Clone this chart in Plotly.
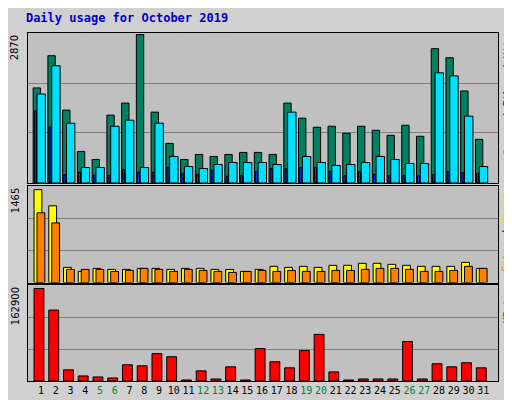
import plotly.graph_objects as go

days = list(range(1, 32))
hits = [1838,2461,1409,610,455,1312,1545,2870,1370,766,455,552,513,552,591,591,552,1545,1253,1078,1097,961,1097,1019,922,1117,903,2597,2422,1779,844]
files = [1721,2266,1156,299,299,1097,1214,299,1156,513,318,279,357,396,396,396,357,1370,513,396,338,357,396,513,455,377,377,2130,2071,1292,318]
pages = [1396,1084,162,208,149,149,260,208,208,305,188,169,247,130,149,227,279,279,299,299,221,143,221,169,143,143,143,162,221,201,182]
visits = [1465,1210,239,175,223,207,207,223,223,207,223,223,207,207,175,207,255,239,255,239,271,271,303,303,287,271,255,255,255,318,223]
sites = [1099,940,207,207,207,175,191,223,207,175,207,191,175,159,175,191,175,191,175,175,191,191,207,223,223,207,175,175,191,255,223]
kbytes = [162900,124850,19620,8918,7134,5351,28540,26750,48160,42810,1784,17840,3567,24970,1784,57080,33890,23190,53510,82050,16050,1784,3567,3567,3567,69560,3567,30320,24970,32100,23190]
weekend = {5,6,12,13,19,20,26,27}
ticktext = [f"<span style='color:#008040'>{d}</span>" if d in weekend else str(d) for d in days]

fig = go.Figure()
line = dict(color="black", width=1)
def bar(y, color, off, w, ax):
    fig.add_trace(go.Bar(x=days, y=y, marker=dict(color=color, line=line), offset=off, width=w,
                         xaxis="x"+ax if ax!="1" else "x", yaxis="y"+ax if ax!="1" else "y"))
bar(hits, "#008060", -0.53, 0.5, "1")
bar(files, "#00E0FF", -0.27, 0.57, "1")
bar(pages, "#0040FF", -0.45, 0.13, "1")
bar(visits, "#FFFF00", -0.47, 0.53, "2")
bar(sites, "#FF8000", -0.27, 0.53, "2")
bar(kbytes, "#FF0000", -0.47, 0.67, "3")

xr = [0.12, 32.0]
xcommon = dict(range=xr, showgrid=False, zeroline=False, showline=True, linecolor="black", mirror=True, linewidth=1)
def yax(dom, top):
    return dict(domain=dom, range=[0, top], tickvals=[top/3, 2*top/3], showticklabels=False,
                gridcolor="#808080", gridwidth=1, zeroline=False, showline=True, linecolor="black", mirror=True, ticks="")
fig.update_layout(
    width=512, height=400, margin=dict(l=20, r=22, t=25, b=22),
    paper_bgcolor="#d0d0d0", plot_bgcolor="#c0c0c0", showlegend=False, barmode="overlay",
    font=dict(family="DejaVu Sans Mono", size=11, color="black"),
    xaxis=dict(**xcommon, anchor="y", showticklabels=False),
    xaxis2=dict(**xcommon, anchor="y2", showticklabels=False),
    xaxis3=dict(**xcommon, anchor="y3", tickvals=days, ticktext=ticktext, tickangle=0,
                tickfont=dict(size=10), ticks=""),
    yaxis=yax([0.569, 1.0], 2900),
    yaxis2=yax([0.283, 0.561], 1526),
    yaxis3=yax([0.0, 0.275], 168500),
    title=dict(text="<b>Daily usage for October 2019</b>", x=0.035, y=0.975, xanchor="left", yanchor="middle",
               font=dict(family="DejaVu Sans Mono", size=12, color="#0000C0")),
)
anns = [("2870", 1.0), ("1465", 0.561), ("162900", 0.275)]
for t, y in anns:
    fig.add_annotation(text=t, xref="paper", yref="paper", x=-0.012, y=y, xanchor="right", yanchor="top",
                       textangle=-90, showarrow=False, font=dict(size=10, family="DejaVu Sans"))
side = [
    ("<span style='color:#00C0FF'>Pages</span> / <span style='color:#0000FF'>Files</span> / <span style='color:#008040'>Hits</span>", 1.0),
    ("<span style='color:#FF8000'>Sites</span> / <span style='color:#FFD000'>Visits</span>", 0.561),
    ("<span style='color:#FF0000'>KBytes</span>", 0.275),
]
for t, y in side:
    fig.add_annotation(text=t, xref="paper", yref="paper", x=1.003, y=y, xanchor="left", yanchor="top",
                       textangle=-90, showarrow=False, font=dict(size=10))
fig.write_html("out.html")
